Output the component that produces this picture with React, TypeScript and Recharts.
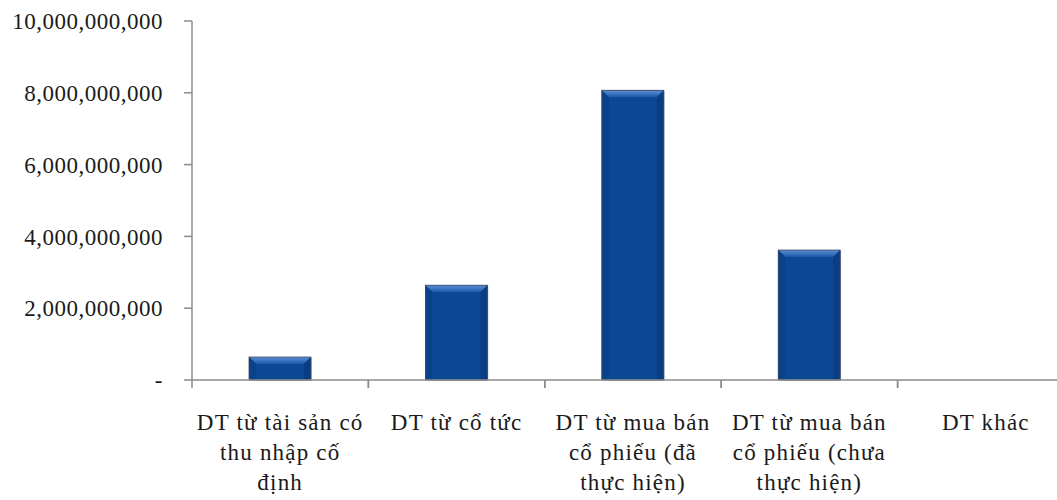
import { BarChart, Bar, XAxis, YAxis } from "recharts"

const categories = [
  "DT từ tài sản có thu nhập cố định",
  "DT từ cổ tức",
  "DT từ mua bán cổ phiếu (đã thực hiện)",
  "DT từ mua bán cổ phiếu (chưa thực hiện)",
  "DT khác",
]

// how each category label wraps under the axis
const categoryLines = [
  ["DT từ tài sản có", "thu nhập cố", "định"],
  ["DT từ cổ tức"],
  ["DT từ mua bán", "cổ phiếu (đã", "thực hiện)"],
  ["DT từ mua bán", "cổ phiếu (chưa", "thực hiện)"],
  ["DT khác"],
]

const revenue = [640000000, 2640000000, 8070000000, 3620000000, 0]

const yTicks = [0, 2000000000, 4000000000, 6000000000, 8000000000, 10000000000]

const data = categories.map((name, i) => ({ name, lines: categoryLines[i], value: revenue[i] }))

const FONT = "'Liberation Serif', serif"
const AXIS = "#8c8c8c"

const formatY = (v: number) => (v === 0 ? "-" : v.toLocaleString("en-US"))

function BevelBar(props: any) {
  const { x, y, width, height } = props
  if (!height || height <= 0) return null
  const b = Math.min(7, height / 2)
  return (
    <g>
      <rect x={x + 1} y={y + 1} width={width} height={height} fill="#7a7a7a" opacity={0.35} />
      <rect x={x} y={y} width={width} height={height} fill="#0c4795" />
      <polygon
        points={`${x},${y} ${x + width},${y} ${x + width - b},${y + b} ${x + b},${y + b}`}
        fill="url(#bevelTop)"
      />
      <polygon points={`${x},${y} ${x + b},${y + b} ${x + b},${y + height} ${x},${y + height}`} fill="#0b4189" />
      <polygon
        points={`${x + width},${y} ${x + width - b},${y + b} ${x + width - b},${y + height} ${x + width},${y + height}`}
        fill="#0a3e84"
      />
      <rect x={x} y={y} width={width} height={height} fill="none" stroke="#3b4a5e" strokeWidth={0.8} />
    </g>
  )
}

function CategoryTick(props: any) {
  const { x, y, payload, index } = props
  const half = payload?.offset ?? 88
  const lines: string[] = data[index]?.lines ?? [String(payload.value)]
  return (
    <g>
      <line x1={x - half} y1={y - 8} x2={x - half} y2={y} stroke={AXIS} strokeWidth={1.5} />
      <line x1={x + half} y1={y - 8} x2={x + half} y2={y} stroke={AXIS} strokeWidth={1.5} />
      <text
        x={x}
        y={y + 42}
        textAnchor="middle"
        fontFamily={FONT}
        fontSize={23}
        letterSpacing={1.2}
        fill="#1a1a1a"
      >
        {lines.map((l, i) => (
          <tspan key={i} x={x} dy={i === 0 ? 0 : 30}>
            {l}
          </tspan>
        ))}
      </text>
    </g>
  )
}

export default function App() {
  return (
    <div style={{ position: "fixed", left: 0, top: 0, width: 1057, height: 500, overflow: "hidden", background: "#fff" }}>
      <BarChart width={1074} height={500} data={data} margin={{ top: 21, right: 0, bottom: 0, left: 0 }} barSize={62}>
        <defs>
          <linearGradient id="bevelTop" x1="0" y1="0" x2="0" y2="1">
            <stop offset="0%" stopColor="#5d8fd6" />
            <stop offset="100%" stopColor="#1a58aa" />
          </linearGradient>
        </defs>
        <XAxis
          dataKey="name"
          interval={0}
          tickLine={false}
          axisLine={{ stroke: AXIS, strokeWidth: 1.5 }}
          tickSize={8}
          tickMargin={0}
          tick={<CategoryTick />}
          height={120}
        />
        <YAxis
          width={192}
          domain={[0, 10000000000]}
          ticks={yTicks}
          tickFormatter={formatY}
          tickSize={8}
          tickMargin={21}
          axisLine={{ stroke: AXIS, strokeWidth: 1.5 }}
          tickLine={{ stroke: AXIS, strokeWidth: 1.5 }}
          tick={{ fontFamily: FONT, fontSize: 23, letterSpacing: 0.5, fill: "#1a1a1a" }}
        />
        <Bar dataKey="value" shape={<BevelBar />} isAnimationActive={false} />
      </BarChart>
    </div>
  )
}
